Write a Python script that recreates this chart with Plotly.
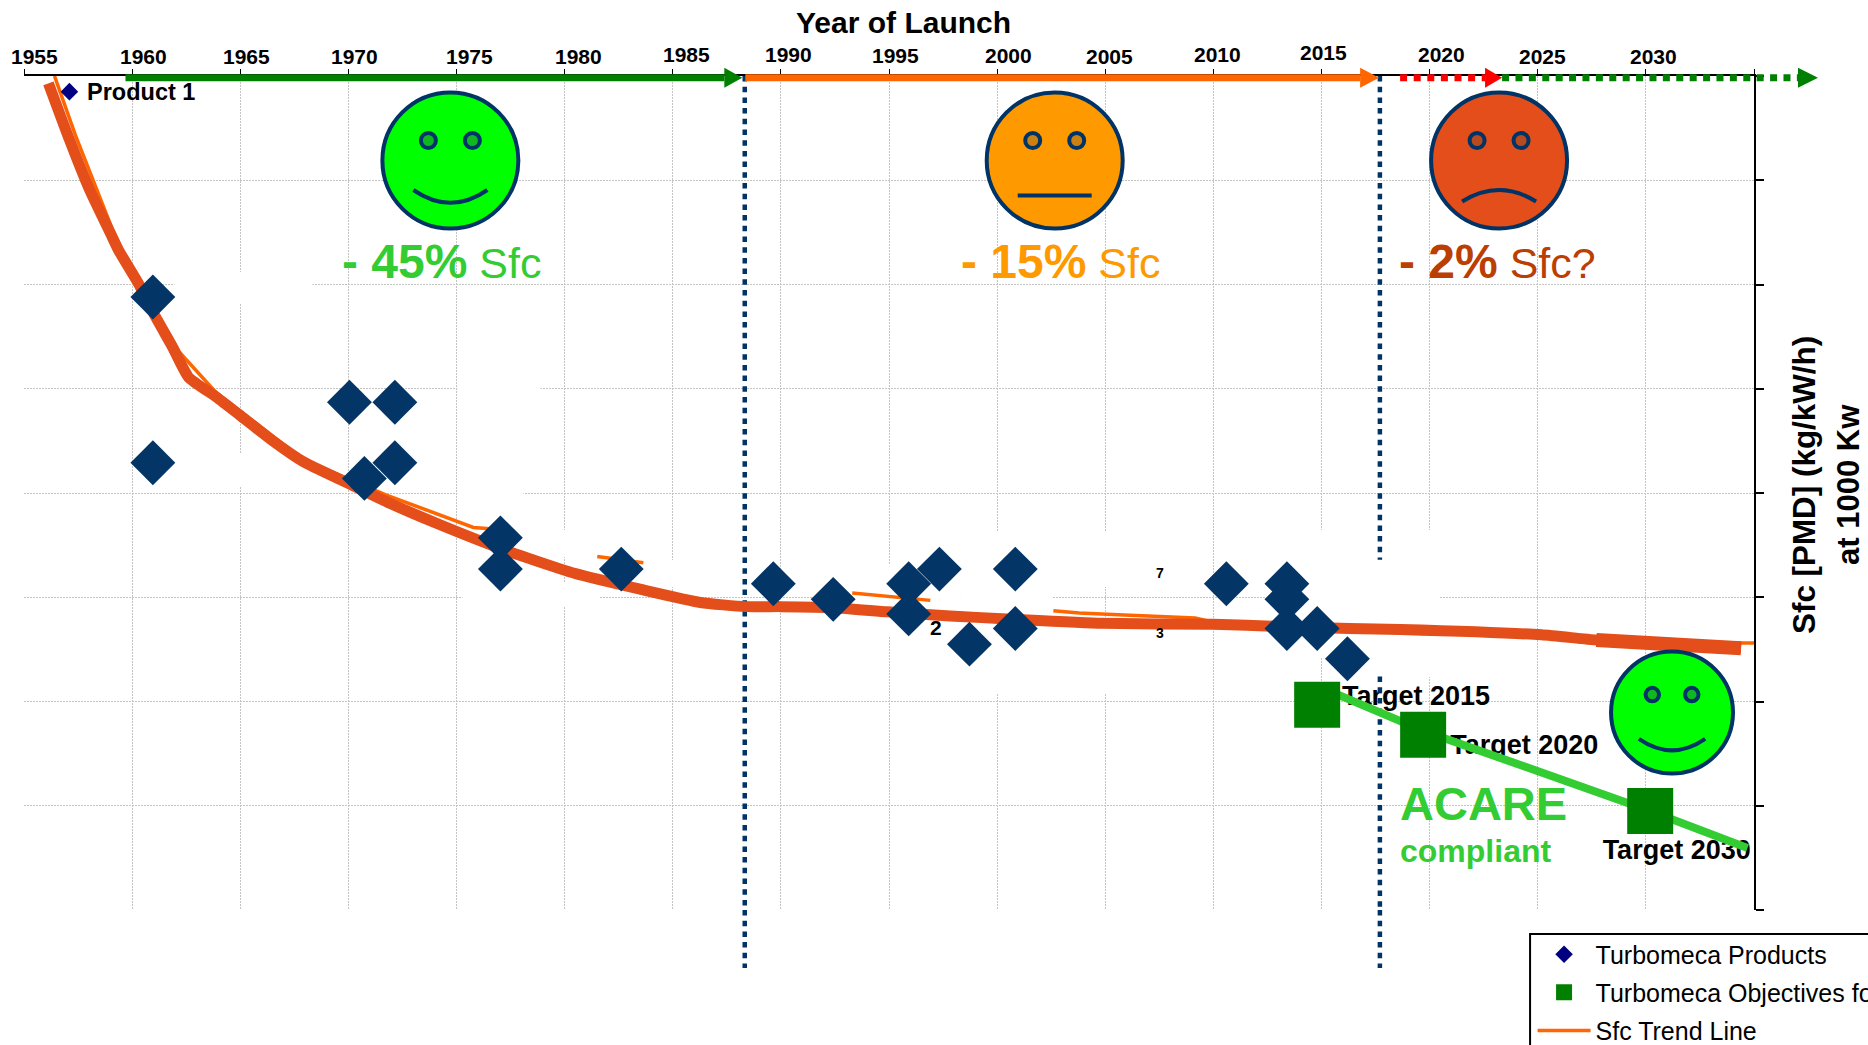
import plotly.graph_objects as go

# ---------- data (y axis carries no printed scale, so grid units are used) ----------
tick_years = [1955,1960,1965,1970,1975,1980,1985,1990,1995,2000,2005,2010,2015,2020,2025,2030]
tick_dx =    [10,11,6,6,13,14,13.5,8,6,11,4,4,2,12,5,8]
tick_dy =    [20,20,20,20,20,20,22,22,21,21,20,22,24,22,20,20]

product_years = [1957.10,1960.96,1960.96,1970.05,1972.15,1972.15,1970.74,1977.03,1977.03,1982.62,
                 1989.65,1992.42,1995.91,1995.91,1997.33,1998.72,2000.84,2000.84,2010.6,
                 2013.4,2013.4,2013.4,2014.8,2016.2]
product_sfc   = [7.85,5.88,4.29,4.87,4.87,4.29,4.14,3.57,3.27,3.27,
                 3.13,2.98,3.13,2.84,3.27,2.55,3.27,2.70,3.13,
                 3.13,2.98,2.70,2.70,2.41]
big_years = product_years[1:]
big_sfc   = product_sfc[1:]

target_years = [2014.8,2019.7,2030.2]
target_sfc   = [1.97,1.68,0.95]
target_names = ["Target 2015","Target 2020","Target 2030"]
target_label_years = [2015.95,2020.95,2028.0]
target_label_sfc   = [2.03,1.56,0.555]

acare_years = [2014.8,2019.7,2030.2,2034.7]
acare_sfc   = [2.15,1.72,0.95,0.595]

trend_years = [1956.13,1957.10,1958.03,1959.00,1959.37,1960.29,1961.03,1961.87,1962.61,1963.90,1964.96,
               1966.44,1967.92,1969.82,1971.94,1974.07,1977.26,1980.45,1983.64,1986.28,1988.36,1989.97,
               1992.47,1994.92,1997.83,2000.70,2004.86,2010.0,2013.10,2016.29,2018.65,2025.17,2027.71,
               2031.09,2034.4]
trend_sfc   = [7.93,7.39,6.91,6.49,6.33,6.01,5.71,5.40,5.11,4.92,4.75,
               4.51,4.30,4.11,3.90,3.71,3.45,3.23,3.07,2.95,2.91,2.91,
               2.90,2.86,2.82,2.79,2.75,2.74,2.72,2.70,2.69,2.64,2.59,
               2.56,2.51]

thin_years = [1956.41,1957.38,1959.37,1962.19,1963.90,1967.92,1971.76,1973.89,1975.78,1977.03,None,
              1981.51,1983.64,None,
              1993.30,1995.33,1996.91,None,
              2002.6,2003.80,2005.88,2007.73,2009.16,2010.0,2016.0,2025.0,2031.0,2035.0]
thin_sfc   = [8.0,7.43,6.38,5.35,4.96,4.32,3.98,3.82,3.67,3.65,None,
              3.39,3.33,None,
              3.04,3.00,2.97,None,
              2.87,2.85,2.83,2.81,2.80,2.76,2.70,2.64,2.56,2.56]

dot_a_years = [1988.33,1988.33]
dot_a_sfc   = [8.0,0.0]
dot_b_years = [2017.7,2017.7,None,2017.7,2017.7]
dot_b_sfc   = [8.0,3.36,None,2.24,0.0]
dot_bottom_years = [1988.33,2017.7]

NAVY = "#033566"
FONT = "Liberation Sans"
L, R, T, B = 23.5, 1754.0, 76.0, 910.0
DOT = "5.5px,5.2px"

def PX(x): return (x - L) / (R - L)
def PY(y): return (B - y) / (B - T)
def YR(x): return 1955 + (x - L) / (R - L) * 80
def VAL(y): return (B - y) / (B - T) * 8

fig = go.Figure()

fig.add_trace(go.Scatter(x=thin_years, y=thin_sfc, mode="lines", name="Sfc Trend Line", legendgroup="c",
                         line=dict(color="#FF6600", width=3.5), legendrank=3, connectgaps=False))
fig.add_trace(go.Scatter(x=target_label_years, y=target_label_sfc, mode="text", text=target_names,
                         textposition="middle right", showlegend=False, cliponaxis=False,
                         textfont=dict(family=FONT, size=27, color="black", weight="bold")))
for xs, ys in ((dot_a_years, dot_a_sfc), (dot_b_years, dot_b_sfc)):
    fig.add_trace(go.Scatter(x=xs, y=ys, mode="lines", showlegend=False, connectgaps=False,
                             line=dict(color="#003366", width=4.5, dash=DOT)))
fig.add_trace(go.Scatter(x=acare_years, y=acare_sfc, mode="lines", showlegend=False,
                         line=dict(color="#33CC33", width=8)))
fig.add_trace(go.Scatter(x=trend_years, y=trend_sfc, mode="lines", showlegend=False,
                         line=dict(color="#E34E1B", width=11, shape="spline", smoothing=0.5)))
fig.add_trace(go.Scatter(x=trend_years[-3:], y=trend_sfc[-3:], mode="lines", showlegend=False,
                         line=dict(color="#E34E1B", width=14)))
fig.add_trace(go.Scatter(x=product_years, y=product_sfc, mode="markers", name="Turbomeca Products", legendrank=1,
                         legendgroup="a", marker=dict(symbol="diamond", size=13.5, color="#000080")))
fig.add_trace(go.Scatter(x=big_years, y=big_sfc, mode="markers", showlegend=False,
                         marker=dict(symbol="diamond", size=34.5, color=NAVY)))
fig.add_trace(go.Scatter(x=target_years, y=target_sfc, mode="markers", name="Turbomeca Objectives for", legendrank=2,
                         legendgroup="b", marker=dict(symbol="square", size=46, color="#008000")))

shapes = []
# patches of white that interrupt the grid
white_patches = [(174,312,272,303),(174,260,453,486),(457,540,368,395),(457,540,400,426),(457,523,456,497),
                 (462,599,582,607),(500,599,530,557),(600,700,560,587),(815,960,565,637),(960,1052,531,693),
                 (1052,1170,531,587),(1052,1170,617,693),(1265,1430,530,657),(1400,1440,590,677)]
for x0, x1, y0, y1 in white_patches:
    shapes.append(dict(type="rect", xref="x", yref="y", layer="between",
                       x0=YR(x0), x1=YR(x1), y0=VAL(y1), y1=VAL(y0), fillcolor="white", line=dict(width=0)))

# dotted dividers carry on below the plot area
for yr in dot_bottom_years:
    shapes.append(dict(type="line", xref="x", yref="paper", x0=yr, x1=yr, y0=0, y1=PY(968),
                       line=dict(color="#003366", width=4.5, dash=DOT)))

# legend frame (runs off the page at the right and the bottom)
shapes.append(dict(type="rect", xref="paper", yref="paper", x0=PX(1530), x1=PX(1900), y0=PY(934), y1=PY(1080),
                   fillcolor="white", line=dict(color="black", width=2)))

def arrow(x0, x1, xtip, color, dash=None):
    yc = 77.7
    shapes.append(dict(type="line", xref="paper", yref="paper", x0=PX(x0), x1=PX(x1), y0=PY(yc), y1=PY(yc),
                       line=dict(color=color, width=7, dash=dash or "solid")))
    shapes.append(dict(type="path", xref="paper", yref="paper", fillcolor=color, line=dict(width=0),
                       path=f"M {PX(x1)} {PY(yc-10)} L {PX(xtip)} {PY(yc)} L {PX(x1)} {PY(yc+10)} Z"))

arrow(125, 724, 742, "#008000")
arrow(745, 1360, 1379, "#FF6600")
arrow(1400, 1485, 1502, "#FF0000", "7px,6.6px")
arrow(1502, 1798, 1818, "#008000", "7px,6.4px")

def face(cx, cy, r, fill, eyefill, mouth):
    shapes.append(dict(type="circle", xref="paper", yref="paper", fillcolor=fill,
                       line=dict(color="#003366", width=4),
                       x0=PX(cx-r), x1=PX(cx+r), y0=PY(cy+r), y1=PY(cy-r)))
    k = r / 68.0
    for ex in (-22*k, 22*k):
        shapes.append(dict(type="circle", xref="paper", yref="paper", fillcolor=eyefill,
                           line=dict(color="#003366", width=4),
                           x0=PX(cx+ex-7.5*k), x1=PX(cx+ex+7.5*k), y0=PY(cy-20*k+7.5*k), y1=PY(cy-20*k-7.5*k)))
    ye, yc = mouth
    shapes.append(dict(type="path", xref="paper", yref="paper", line=dict(color="#003366", width=4),
                       path=f"M {PX(cx-37*k)} {PY(cy+ye*k)} Q {PX(cx)} {PY(cy+yc*k)} {PX(cx+37*k)} {PY(cy+ye*k)}"))

face(450, 160.5, 68, "#00FF00", "#10B820", (29.5, 55))
face(1054.5, 160.5, 68, "#FF9900", "#CC8010", (35, 35))
face(1499, 160.5, 68, "#E34E1B", "#B84A20", (41, 18))
face(1672, 712.5, 61, "#00FF00", "#10B820", (29.5, 55))

ann = []
for yr, dx, dy in zip(tick_years, tick_dx, tick_dy):
    ann.append(dict(x=yr, y=1, xref="x", yref="paper", xshift=dx, yshift=dy, text=f"<b>{yr}</b>", showarrow=False,
                    font=dict(family=FONT, size=21, color="black"), xanchor="center", yanchor="middle"))

def label(px, py, text, size, color="black", xanchor="center", angle=0):
    ann.append(dict(x=PX(px), y=PY(py), xref="paper", yref="paper", text=text, showarrow=False, textangle=angle,
                    font=dict(family=FONT, size=size, color=color), xanchor=xanchor, yanchor="middle"))

def big(strong, rest):
    return f'<span style="font-size:48px"><b>{strong}</b></span> {rest}'

label(903, 22.5, "<b>Year of Launch</b>", 30)
label(85, 92, "<b>Product 1</b>", 23.5, xanchor="left")
label(441, 261, big("- 45%", "Sfc"), 43, "#33CC33")
label(1060, 262, big("- 15%", "Sfc"), 43, "#FF9900")
label(1497, 262, big("- 2%", "Sfc?"), 43, "#BB3E03")
label(1398, 803, "<b>ACARE</b>", 47, "#33CC33", xanchor="left")
label(1398, 851, "<b>compliant</b>", 32, "#33CC33", xanchor="left")
label(1805, 485, "<b>Sfc [PMD] (kg/kW/h)</b>", 31.4, angle=-90)
label(1849, 484, "<b>at 1000 Kw</b>", 31, angle=-90)
label(936, 627, "<b>2</b>", 21)
label(1160, 573, "<b>7</b>", 14)
label(1160, 633, "<b>3</b>", 14)

fig.update_layout(
    width=1868, height=1045, autosize=False,
    margin=dict(l=L, r=1868-R, t=T, b=1045-B, pad=0, autoexpand=False),
    plot_bgcolor="white", paper_bgcolor="white",
    font=dict(family=FONT, color="black"),
    shapes=shapes, annotations=ann,
    legend=dict(x=PX(1532.5), y=PY(931.5), xanchor="left", yanchor="top", bgcolor="rgba(0,0,0,0)",
                borderwidth=0, itemwidth=53, font=dict(family=FONT, size=25, color="black"),
                tracegroupgap=2.6, entrywidth=335, entrywidthmode="pixels", itemclick=False),
    xaxis=dict(range=[1955,2035], side="top", dtick=5, tick0=1955, showticklabels=False, ticks="outside", ticklen=5,
               tickcolor="black", showline=True, linecolor="black", linewidth=2, showgrid=True,
               gridcolor="#C4C4C4", gridwidth=1, griddash="2px,1px", zeroline=False),
    yaxis=dict(range=[0,8], side="right", dtick=1, tick0=0, showticklabels=False, ticks="outside", ticklen=8,
               tickcolor="black", tickwidth=2, showline=True, linecolor="black", linewidth=2, showgrid=True,
               gridcolor="#C4C4C4", gridwidth=1, griddash="2px,1px", zeroline=False),
)

fig.write_html("out.html", config=dict(displayModeBar=False),
               post_script="document.body.style.margin='0';document.documentElement.style.overflow='hidden';")
